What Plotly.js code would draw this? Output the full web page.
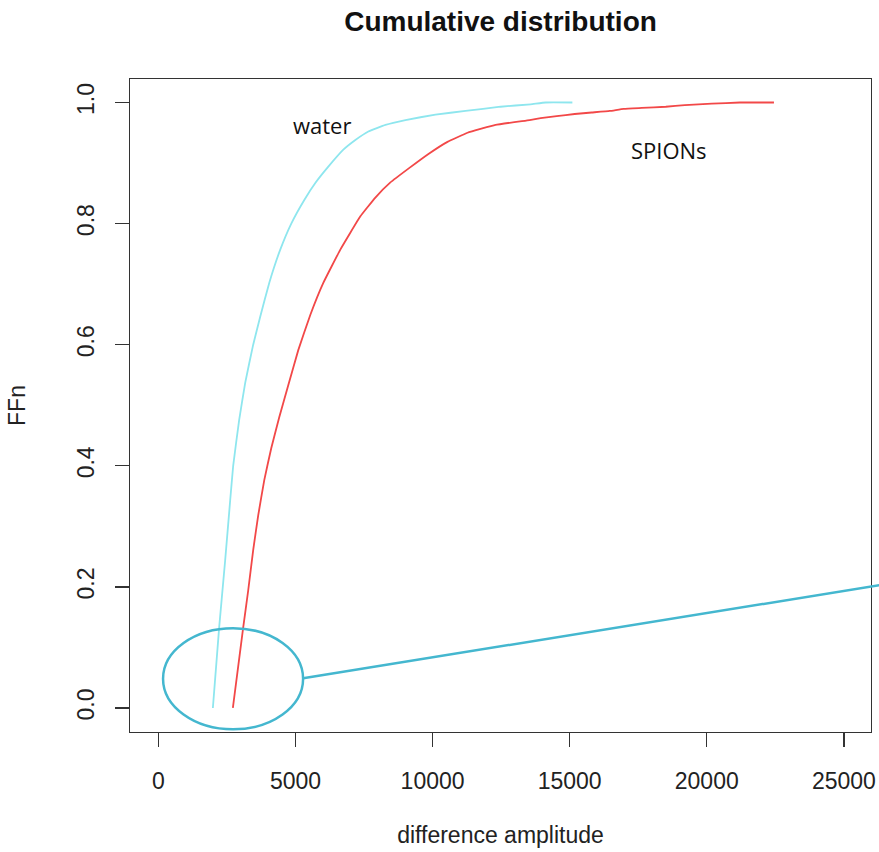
<!DOCTYPE html>
<html>
<head>
<meta charset="utf-8">
<script src="https://cdn.plot.ly/plotly-3.0.1.min.js"></script>
<style>html,body{margin:0;padding:0;background:#fff;}#chart{width:879px;height:852px;}</style>
</head>
<body>
<div id="chart"></div>
<script>
// water ECDF (difference amplitude, FFn)
const waterX = [1987, 2217, 2436, 2619, 2728, 2947, 3166, 3458, 3714, 4043, 4445, 4847, 5322, 5723, 6198, 6746, 7184, 7659, 8280, 9010, 10106, 11202, 12480, 13576, 14124, 15099];
const waterY = [0, 0.133, 0.244, 0.343, 0.400, 0.476, 0.537, 0.600, 0.646, 0.702, 0.757, 0.800, 0.839, 0.867, 0.894, 0.922, 0.938, 0.952, 0.963, 0.971, 0.980, 0.986, 0.993, 0.997, 1.0, 1.0];
// SPIONs ECDF
const spionX = [2717, 3094, 3276, 3459, 3641, 3860, 4116, 4408, 4737, 5102, 5540, 6015, 6636, 7367, 7914, 8462, 9156, 9850, 10544, 11274, 12297, 13539, 13941, 14525, 15183, 15804, 16461, 16972, 17630, 18507, 19200, 20186, 21209, 22451];
const spionY = [0, 0.133, 0.194, 0.261, 0.318, 0.376, 0.429, 0.480, 0.533, 0.591, 0.649, 0.702, 0.757, 0.812, 0.843, 0.868, 0.892, 0.915, 0.935, 0.950, 0.963, 0.971, 0.974, 0.9775, 0.981, 0.9835, 0.986, 0.9896, 0.991, 0.993, 0.9957, 0.998, 1.0, 1.0];
const seriesNames = ["water", "SPIONs"];
const xTicks = [0, 5000, 10000, 15000, 20000, 25000];
const yTicks = [0, 0.2, 0.4, 0.6, 0.8, 1.0];
const yTickText = ["0.0", "0.2", "0.4", "0.6", "0.8", "1.0"];

const font = "Liberation Sans, Arial, sans-serif";
const traces = [
  {x: waterX, y: waterY, type: "scatter", mode: "lines", name: seriesNames[0],
   line: {color: "#8EE6EE", width: 1.8, shape: "spline", smoothing: 0.3}, showlegend: false, hoverinfo: "skip"},
  {x: spionX, y: spionY, type: "scatter", mode: "lines", name: seriesNames[1],
   line: {color: "#F24848", width: 1.8, shape: "spline", smoothing: 0.3}, showlegend: false, hoverinfo: "skip"}
];

const layout = {
  width: 879, height: 852,
  margin: {l: 130, r: 8.3, t: 79, b: 120.3},
  paper_bgcolor: "#fff", plot_bgcolor: "#fff",
  font: {family: font, color: "#222", size: 23},
  title: {text: "<b>Cumulative distribution</b>", font: {family: font, size: 28, color: "#111"},
          x: 0.5, xref: "paper", xanchor: "center", y: 1 - 21/852, yref: "container", yanchor: "middle"},
  xaxis: {range: [-1035, 25990], tickvals: xTicks, ticktext: xTicks.map(String),
          showgrid: false, zeroline: false, showline: true, mirror: true, linecolor: "#333", linewidth: 1.3,
          ticks: "outside", ticklen: 14, tickwidth: 1.3, tickcolor: "#333", ticklabelstandoff: 14,
          tickfont: {family: font, size: 23, color: "#222"},
          title: {text: "difference amplitude", font: {family: font, size: 23, color: "#222"}, standoff: 34}},
  yaxis: {range: [-0.0397, 1.0388], tickvals: yTicks, ticktext: yTickText, tickangle: -90,
          showgrid: false, zeroline: false, showline: true, mirror: true, linecolor: "#333", linewidth: 1.3,
          ticks: "outside", ticklen: 14, tickwidth: 1.3, tickcolor: "#333", ticklabelstandoff: 12,
          tickfont: {family: font, size: 23, color: "#222"},
          title: {text: "FFn", font: {family: font, size: 23, color: "#222"}, standoff: 40}},
  annotations: [
    {x: 5979, y: 0.963, xref: "x", yref: "y", text: seriesNames[0], showarrow: false,
     font: {family: "Open Sans, sans-serif", size: 22, color: "#111"}, xanchor: "center", yanchor: "middle"},
    {x: 18616, y: 0.922, xref: "x", yref: "y", text: seriesNames[1], showarrow: false,
     font: {family: "Open Sans, sans-serif", size: 22, color: "#111"}, xanchor: "center", yanchor: "middle"}
  ],
  shapes: [
    {type: "circle", xref: "paper", yref: "paper", x0: 0.0446, x1: 0.2336, y0: 0.0041, y1: 0.1589,
     line: {color: "#44B7CF", width: 2.5}, fillcolor: "rgba(0,0,0,0)"},
    {type: "line", xref: "paper", yref: "paper", x0: 0.2336, y0: 0.0823, x1: 1.0112, y1: 0.2248,
     line: {color: "#44B7CF", width: 2.5}}
  ]
};

Plotly.newPlot("chart", traces, layout, {staticPlot: true, displayModeBar: false});
</script>
</body>
</html>
